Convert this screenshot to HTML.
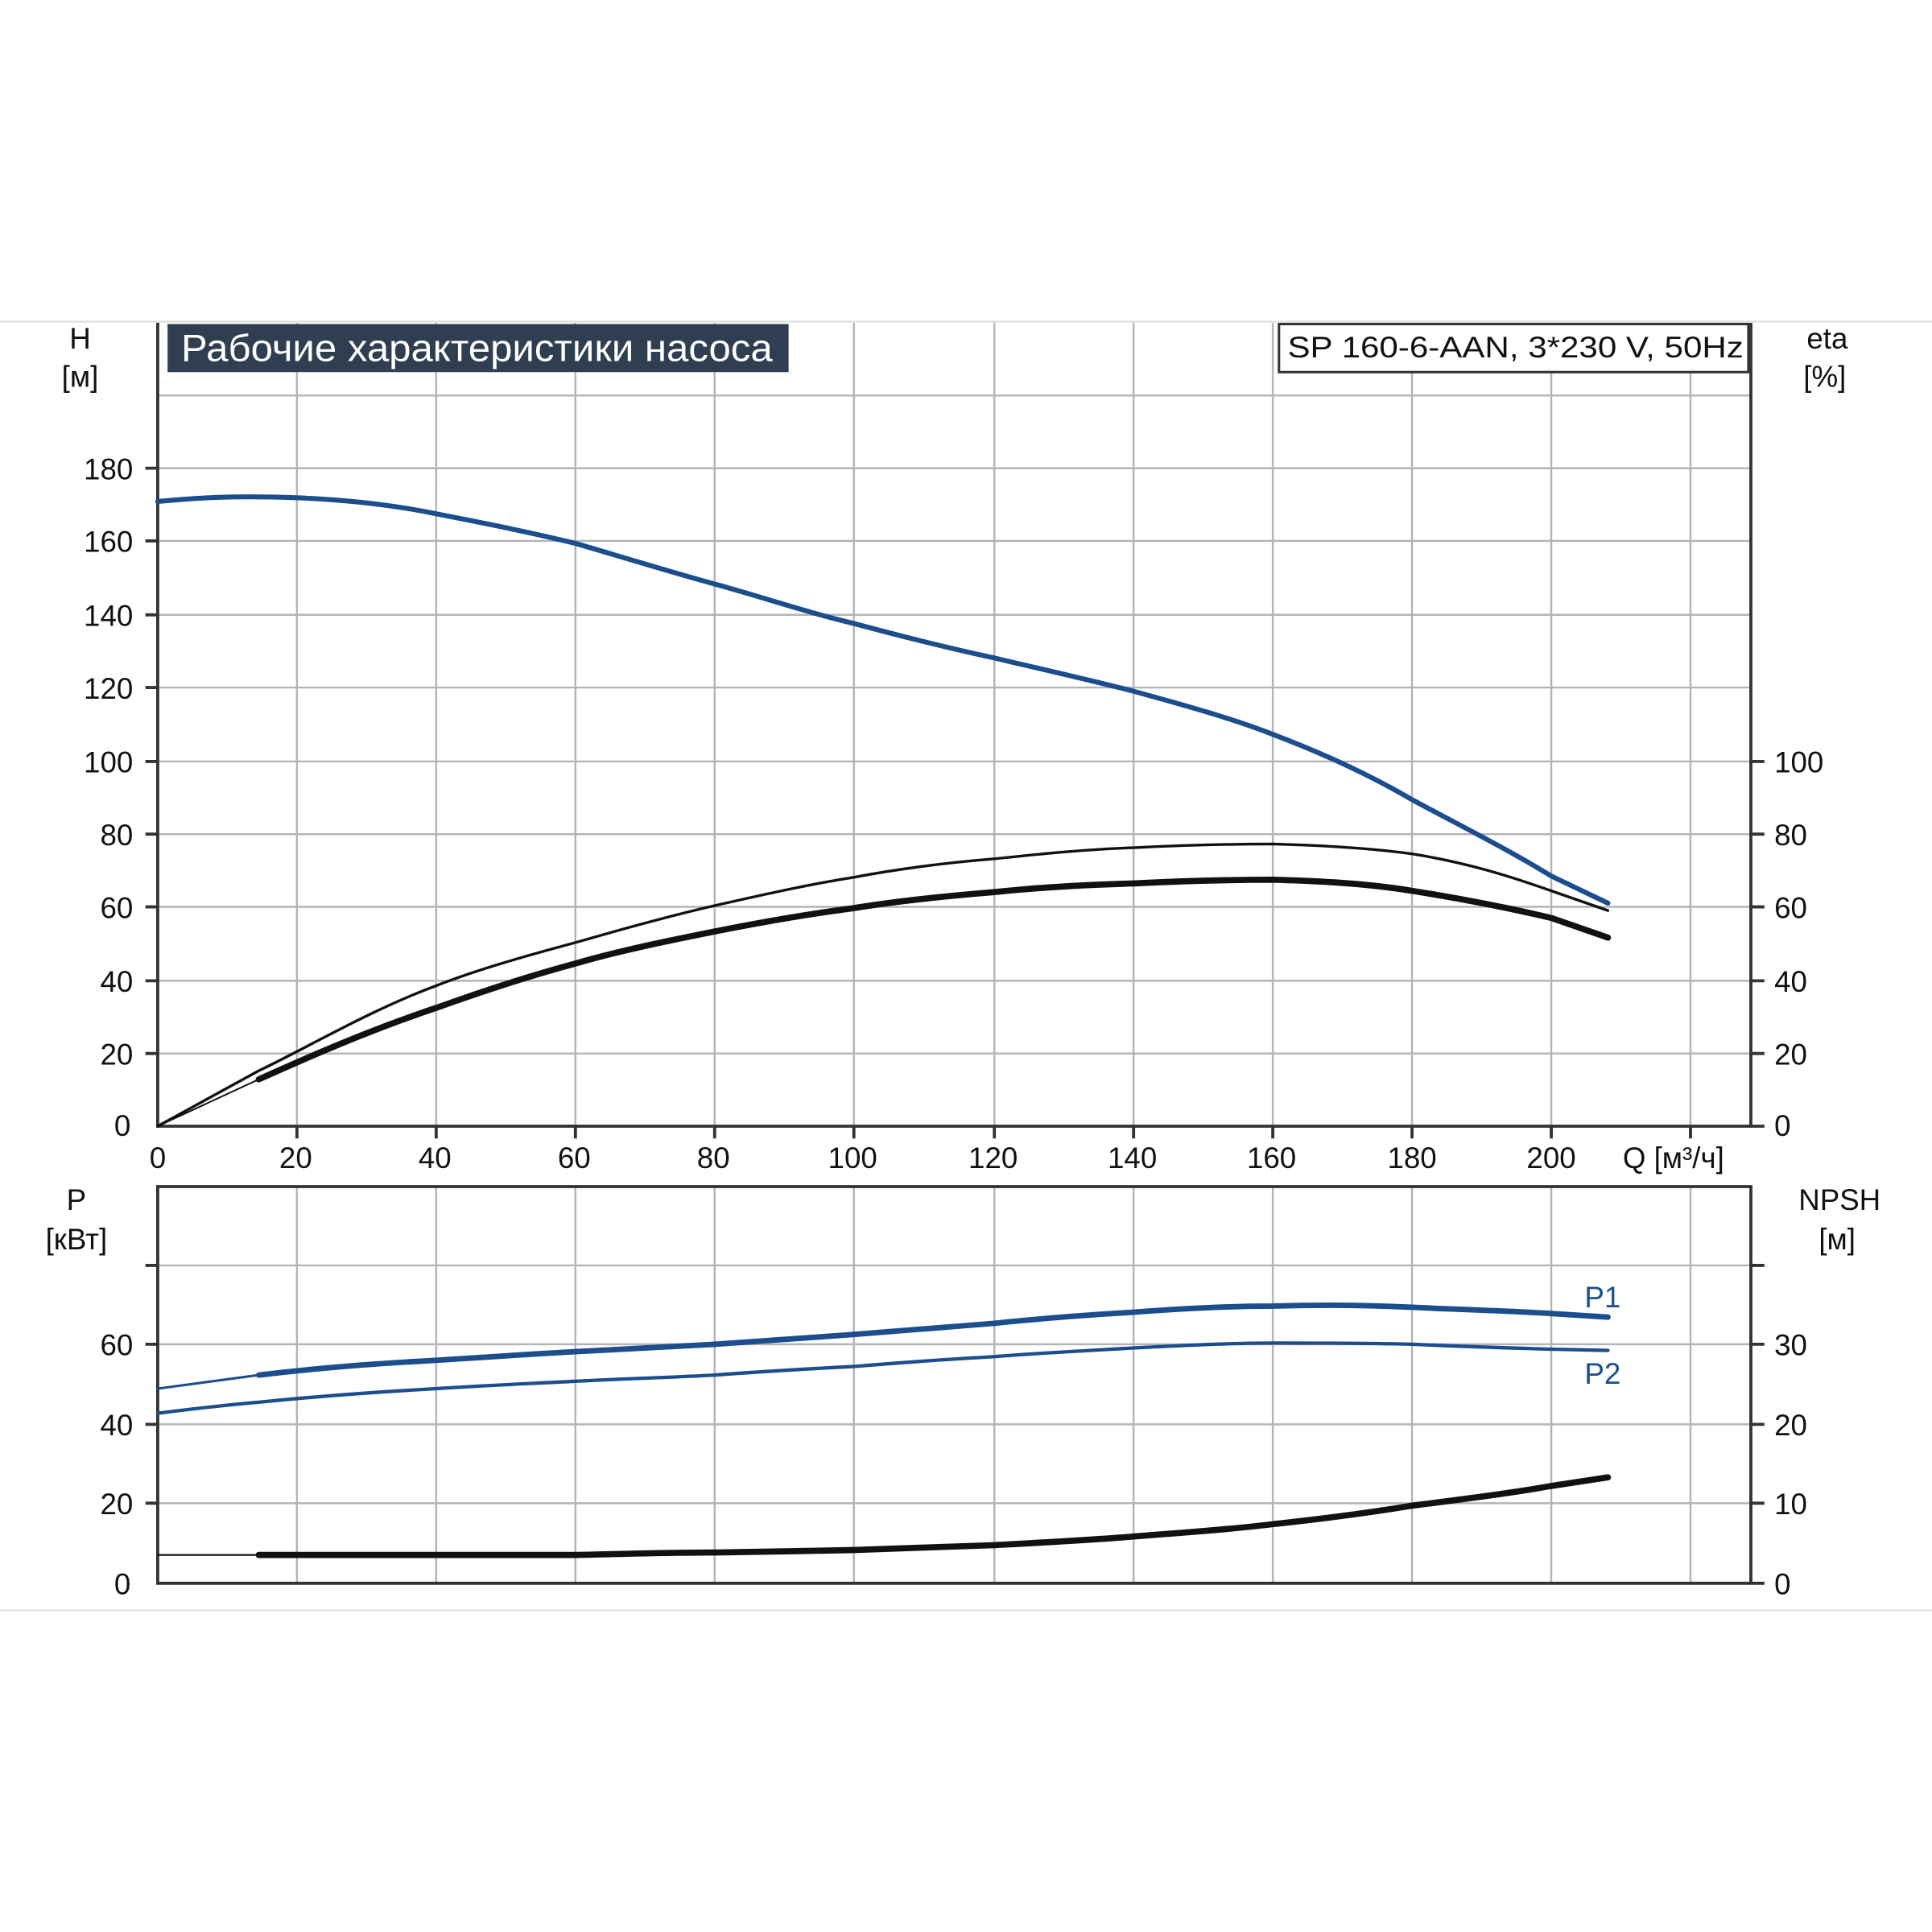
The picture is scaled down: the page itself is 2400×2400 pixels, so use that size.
<!DOCTYPE html>
<html><head><meta charset="utf-8"><style>
html,body{margin:0;padding:0;background:#fff;}
svg{display:block;}
text{font-family:"Liberation Sans","DejaVu Sans",sans-serif;fill:#111;}
</style></head><body>
<svg width="2400" height="2400" viewBox="0 0 1568 1568" xmlns="http://www.w3.org/2000/svg">
<rect width="1568" height="1568" fill="#fff"/>
<line x1="0" y1="261" x2="1568" y2="261" stroke="#ddd" stroke-width="1.5"/>
<line x1="0" y1="1307" x2="1568" y2="1307" stroke="#ddd" stroke-width="1.5"/>
<g stroke="#b4b4b8" stroke-width="1.6" fill="none">
<path d="M241 262V914M354 262V914M467 262V914M580 262V914M693 262V914M807 262V914M920 262V914M1033 262V914M1146 262V914M1259 262V914M1372 262V914"/>
<path d="M128 855H1421M128 796H1421M128 736H1421M128 677H1421M128 618H1421M128 558H1421M128 499H1421M128 439H1421M128 380H1421M128 321H1421"/>
<path d="M241 963V1285M354 963V1285M467 963V1285M580 963V1285M693 963V1285M807 963V1285M920 963V1285M1033 963V1285M1146 963V1285M1259 963V1285M1372 963V1285"/>
<path d="M128 1220H1421M128 1156H1421M128 1091H1421M128 1027H1421"/>
</g>
<g stroke="#333" stroke-width="2.5" fill="none">
<path d="M128 262V914H1421V262"/>
<path d="M128 963H1421V1285H128Z"/>
<path d="M118 380H128M118 439H128M118 499H128M118 558H128M118 618H128M118 677H128M118 736H128M118 796H128M118 855H128"/>
<path d="M1421 618H1432M1421 677H1432M1421 736H1432M1421 796H1432M1421 855H1432M1421 914H1432"/>
<path d="M118 1027H128M118 1091H128M118 1156H128M118 1220H128M1421 1027H1432M1421 1091H1432M1421 1156H1432M1421 1220H1432M1421 1285H1432"/>
<path d="M241 914V924M354 914V924M467 914V924M580 914V924M693 914V924M807 914V924M920 914V924M1033 914V924M1146 914V924M1259 914V924M1372 914V924"/>
</g>
<rect x="136" y="263" width="504" height="39" fill="#2f3e50"/>
<text x="147" y="293" font-size="31" style="fill:#fff" textLength="480" lengthAdjust="spacingAndGlyphs">Рабочие характеристики насоса</text>
<rect x="1038" y="263" width="381" height="39" fill="#fff" stroke="#333" stroke-width="2"/>
<text x="1045" y="290" font-size="24" textLength="370" lengthAdjust="spacingAndGlyphs">SP 160-6-AAN, 3*230 V, 50Hz</text>
<g fill="none" stroke-linecap="round" stroke-linejoin="round">
<path d="M128 407 C160 404 190 402 241 404 S330 412 354 417 C400 426 430 432 467 441 C505 452 540 463 580 474 C620 485 655 497 693 506 C730 516 770 526 807 534 C845 543 885 552 920 561 C960 572 1000 583 1033 596 C1070 610 1110 628 1146 649 C1185 670 1225 690 1259 711 L1305 733" stroke="#1c4d8c" stroke-width="4"/>
<path d="M128 914 L210 869 C250 850 300 820 354 800 C390 786 430 775 467 765 C505 754 545 743 580 735 C620 726 655 718 693 712 C730 705 770 700 807 697 C845 693 885 689 920 688 C960 686 1000 685 1033 685 C1070 686 1110 688 1146 693 C1190 700 1225 711 1259 723 L1305 739" stroke="#111" stroke-width="2.2"/>
<path d="M128 914 L210 876" stroke="#111" stroke-width="1.3"/>
<path d="M210 876 C250 858 300 836 354 818 C390 805 430 792 467 782 C505 771 545 763 580 756 C620 748 655 742 693 737 C730 731 770 727 807 724 C845 720 885 718 920 717 C960 715 1000 714 1033 714 C1070 715 1110 717 1146 723 C1190 730 1225 737 1259 745 L1305 761" stroke="#111" stroke-width="5"/>
<path d="M128 1127 L210 1116" stroke="#1c4d8c" stroke-width="2"/>
<path d="M210 1116 C260 1110 300 1107 354 1104 C400 1101 430 1099 467 1097 C505 1095 545 1093 580 1091 C620 1088 655 1086 693 1083 C730 1080 770 1077 807 1074 C845 1070 885 1067 920 1065 C960 1062 1000 1060 1033 1060 C1070 1059 1100 1059 1146 1061 C1190 1063 1225 1064 1259 1066 L1305 1069" stroke="#1c4d8c" stroke-width="4.5"/>
<path d="M128 1147 C160 1143 185 1140 210 1138 C260 1133 300 1130 354 1127 C400 1124 430 1123 467 1121 C505 1119 545 1118 580 1116 C620 1113 655 1111 693 1109 C730 1106 770 1103 807 1101 C845 1098 885 1096 920 1094 C960 1092 1000 1090 1033 1090 C1070 1090 1110 1090 1146 1091 C1190 1093 1225 1094 1259 1095 L1305 1096" stroke="#1c4d8c" stroke-width="2.8"/>
<path d="M128 1262 L210 1262" stroke="#111" stroke-width="1.5"/>
<path d="M210 1262 L467 1262 C510 1261 545 1260 580 1260 C620 1259 655 1259 693 1258 C730 1257 770 1255 807 1254 C845 1252 885 1250 920 1247 C960 1244 1000 1241 1033 1237 C1070 1233 1110 1228 1146 1222 C1185 1217 1225 1212 1259 1206 L1305 1199" stroke="#111" stroke-width="5"/>
</g>
<g font-size="24">
<text x="65" y="283" text-anchor="middle">H</text>
<text x="65" y="314" text-anchor="middle">[м]</text>
<text x="1483" y="283" text-anchor="middle">eta</text>
<text x="1481" y="314" text-anchor="middle">[%]</text>
<g text-anchor="end">
<text x="108" y="389">180</text><text x="108" y="448">160</text><text x="108" y="508">140</text><text x="108" y="567">120</text><text x="108" y="627">100</text><text x="108" y="686">80</text><text x="108" y="745">60</text><text x="108" y="805">40</text><text x="108" y="864">20</text><text x="106" y="922">0</text>
<text x="108" y="1100">60</text><text x="108" y="1165">40</text><text x="108" y="1229">20</text><text x="106" y="1294">0</text>
</g>
<text x="1440" y="627">100</text><text x="1440" y="686">80</text><text x="1440" y="745">60</text><text x="1440" y="805">40</text><text x="1440" y="864">20</text><text x="1440" y="922">0</text>
<text x="1440" y="1100">30</text><text x="1440" y="1165">20</text><text x="1440" y="1229">10</text><text x="1440" y="1294">0</text>
<g text-anchor="middle">
<text x="128" y="948">0</text><text x="240" y="948">20</text><text x="353" y="948">40</text><text x="466" y="948">60</text><text x="579" y="948">80</text><text x="692" y="948">100</text><text x="806" y="948">120</text><text x="919" y="948">140</text><text x="1032" y="948">160</text><text x="1146" y="948">180</text><text x="1259" y="948">200</text>
</g>
<text x="1317" y="948">Q [м³/ч]</text>
<text x="62" y="982" text-anchor="middle">P</text>
<text x="62" y="1014" text-anchor="middle">[кВт]</text>
<text x="1493" y="982" text-anchor="middle">NPSH</text>
<text x="1491" y="1014" text-anchor="middle">[м]</text>
<text x="1286" y="1061" style="fill:#1c4d8c">P1</text>
<text x="1286" y="1123" style="fill:#1c4d8c">P2</text>
</g>
</svg>
</body></html>
